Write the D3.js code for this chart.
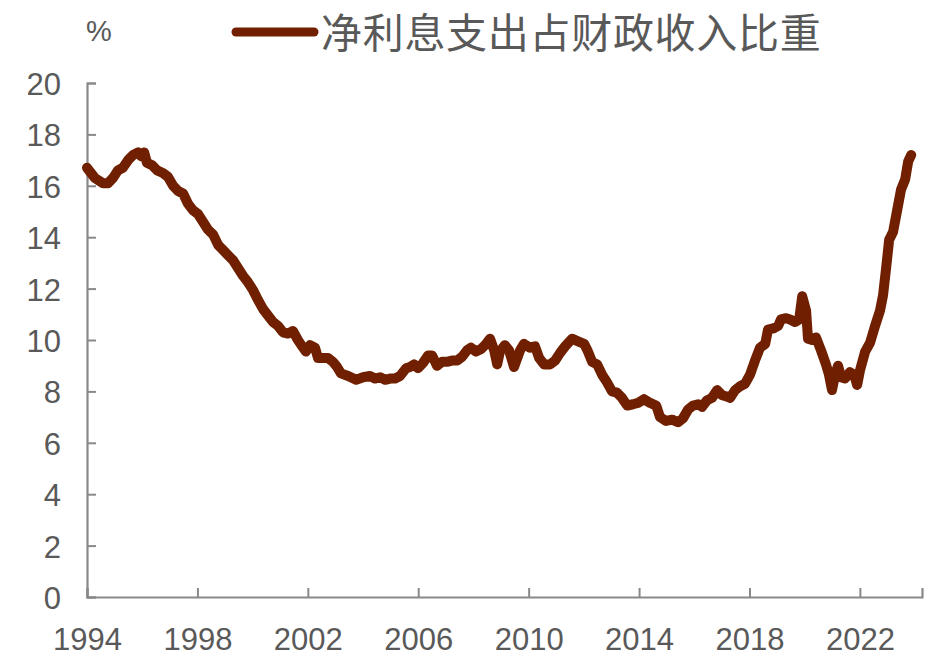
<!DOCTYPE html>
<html>
<head>
<meta charset="utf-8">
<script src="https://cdn.jsdelivr.net/npm/d3@7"></script>
<style>
  html, body { margin: 0; padding: 0; background: #fff; }
  svg { display: block; }
</style>
</head>
<body>
<svg id="chart" width="928" height="663"></svg>
<script>
// ---- data (decimal year, % of revenue) ----
const seriesName = "净利息支出占财政收入比重";
const unitLabel = "%";
const dates = [
  1994.00, 1994.29, 1994.58, 1994.76, 1994.94, 1995.12, 1995.30, 1995.49, 1995.67, 1995.85,
  1995.96, 1996.07, 1996.17, 1996.36, 1996.54, 1996.75, 1996.93, 1997.12, 1997.30, 1997.48,
  1997.66, 1997.84, 1998.02, 1998.20, 1998.38, 1998.57, 1998.75, 1998.93, 1999.11, 1999.29,
  1999.47, 1999.65, 1999.83, 2000.01, 2000.20, 2000.38, 2000.56, 2000.74, 2000.92, 2001.10,
  2001.28, 2001.46, 2001.64, 2001.83, 2001.93, 2002.08, 2002.26, 2002.37, 2002.55, 2002.73,
  2002.91, 2003.06, 2003.20, 2003.46, 2003.75, 2004.00, 2004.25, 2004.43, 2004.62, 2004.80,
  2004.98, 2005.16, 2005.34, 2005.56, 2005.70, 2005.85, 2005.99, 2006.17, 2006.36, 2006.50,
  2006.68, 2006.86, 2007.04, 2007.22, 2007.41, 2007.59, 2007.77, 2007.91, 2008.09, 2008.28,
  2008.46, 2008.60, 2008.75, 2008.86, 2008.96, 2009.14, 2009.29, 2009.47, 2009.69, 2009.83,
  2010.05, 2010.23, 2010.38, 2010.56, 2010.78, 2010.96, 2011.14, 2011.32, 2011.57, 2011.79,
  2012.01, 2012.15, 2012.30, 2012.48, 2012.66, 2012.84, 2013.02, 2013.20, 2013.38, 2013.57,
  2013.78, 2013.96, 2014.18, 2014.40, 2014.62, 2014.76, 2014.98, 2015.20, 2015.41, 2015.59,
  2015.78, 2015.96, 2016.14, 2016.28, 2016.46, 2016.64, 2016.83, 2017.01, 2017.19, 2017.30,
  2017.48, 2017.66, 2017.84, 2018.02, 2018.20, 2018.38, 2018.57, 2018.67, 2018.86, 2019.04,
  2019.14, 2019.33, 2019.47, 2019.65, 2019.80, 2019.91, 2020.05, 2020.12, 2020.27, 2020.41,
  2020.59, 2020.77, 2020.88, 2020.99, 2021.10, 2021.21, 2021.32, 2021.46, 2021.64, 2021.79,
  2021.90, 2022.01, 2022.19, 2022.37, 2022.55, 2022.73, 2022.84, 2022.95, 2023.06, 2023.20,
  2023.35, 2023.49, 2023.64, 2023.75, 2023.86
];
const values = [
  16.70, 16.30, 16.10, 16.10, 16.30, 16.60, 16.70, 17.00, 17.20, 17.30,
  17.15, 17.30, 16.90, 16.80, 16.60, 16.50, 16.35, 16.00, 15.80, 15.70,
  15.30, 15.05, 14.90, 14.60, 14.30, 14.10, 13.70, 13.50, 13.30, 13.10,
  12.80, 12.50, 12.25, 11.95, 11.55, 11.20, 10.95, 10.70, 10.55, 10.30,
  10.25, 10.35, 10.00, 9.70, 9.55, 9.80, 9.70, 9.30, 9.30, 9.30,
  9.15, 8.95, 8.70, 8.60, 8.45, 8.55, 8.60, 8.50, 8.55, 8.45,
  8.50, 8.50, 8.60, 8.90, 8.95, 9.05, 8.90, 9.10, 9.40, 9.40,
  9.00, 9.15, 9.15, 9.20, 9.20, 9.35, 9.60, 9.70, 9.55, 9.65,
  9.85, 10.05, 9.60, 9.05, 9.55, 9.80, 9.60, 8.95, 9.60, 9.85,
  9.70, 9.75, 9.30, 9.05, 9.05, 9.20, 9.50, 9.75, 10.05, 9.95,
  9.85, 9.55, 9.15, 9.05, 8.65, 8.35, 8.00, 7.95, 7.75, 7.45,
  7.50, 7.55, 7.70, 7.55, 7.45, 7.00, 6.85, 6.90, 6.80, 6.95,
  7.30, 7.45, 7.50, 7.40, 7.65, 7.75, 8.05, 7.85, 7.80, 7.75,
  8.05, 8.20, 8.30, 8.65, 9.20, 9.70, 9.85, 10.40, 10.45, 10.55,
  10.80, 10.85, 10.80, 10.70, 10.80, 11.70, 11.15, 10.05, 10.00, 10.10,
  9.60, 9.05, 8.65, 8.05, 8.65, 9.00, 8.55, 8.50, 8.75, 8.65,
  8.25, 8.85, 9.55, 9.90, 10.55, 11.15, 11.75, 12.80, 13.90, 14.20,
  15.05, 15.85, 16.25, 16.95, 17.20
];
const xTicks = [1994, 1998, 2002, 2006, 2010, 2014, 2018, 2022];
const yTicks = [0, 2, 4, 6, 8, 10, 12, 14, 16, 18, 20];

// ---- layout ----
const svg = d3.select("#chart");
const x = d3.scaleLinear().domain([1994, 2024.25]).range([87, 922]);
const y = d3.scaleLinear().domain([0, 20]).range([597, 83]);
const textColor = "#595959";
const axisColor = "#898989";
const lineColor = "#702000";
const font = "'Liberation Sans', Arial, sans-serif";

// y axis
const yAxis = svg.append("g")
  .attr("transform", `translate(${x.range()[0]},0)`)
  .call(d3.axisRight(y).tickValues(yTicks).tickSize(9).tickFormat(d3.format("d")));
yAxis.select(".domain").attr("stroke", axisColor).attr("stroke-width", 2.2);
yAxis.selectAll(".tick line").attr("stroke", axisColor).attr("stroke-width", 2);
yAxis.selectAll(".tick text")
  .attr("x", -26).attr("text-anchor", "end").attr("dy", "0.37em")
  .attr("fill", textColor).style("font-family", font).style("font-size", "31px");

// x axis
const xAxis = svg.append("g")
  .attr("transform", `translate(0,${y(0)})`)
  .call(d3.axisTop(x).tickValues(xTicks).tickSize(9).tickFormat(d3.format("d")));
xAxis.select(".domain").attr("stroke", axisColor).attr("stroke-width", 2.2);
xAxis.selectAll(".tick text")
  .attr("y", 53).attr("dy", 0)
  .attr("fill", textColor).style("font-family", font).style("font-size", "31px");
xAxis.selectAll(".tick line").attr("stroke", axisColor).attr("stroke-width", 2);

// line
const line = d3.line()
  .x((d, i) => x(dates[i]))
  .y(d => y(d));
svg.append("path")
  .datum(values)
  .attr("fill", "none")
  .attr("stroke", lineColor)
  .attr("stroke-width", 10)
  .attr("stroke-linejoin", "round")
  .attr("stroke-linecap", "round")
  .attr("d", line);

// unit label
svg.append("text")
  .attr("x", 99).attr("y", 41)
  .attr("text-anchor", "middle")
  .attr("fill", textColor)
  .style("font-family", font).style("font-size", "29px")
  .text(unitLabel);

// legend
svg.append("line")
  .attr("x1", 236).attr("x2", 314).attr("y1", 32).attr("y2", 32)
  .attr("stroke", lineColor).attr("stroke-width", 9).attr("stroke-linecap", "round");
svg.append("text")
  .attr("x", 321).attr("y", 48)
  .attr("fill", textColor)
  .style("font-family", "'Noto Sans CJK SC', sans-serif").style("font-size", "41px")
  .style("letter-spacing", "0.7px")
  .text(seriesName);
</script>
</body>
</html>
